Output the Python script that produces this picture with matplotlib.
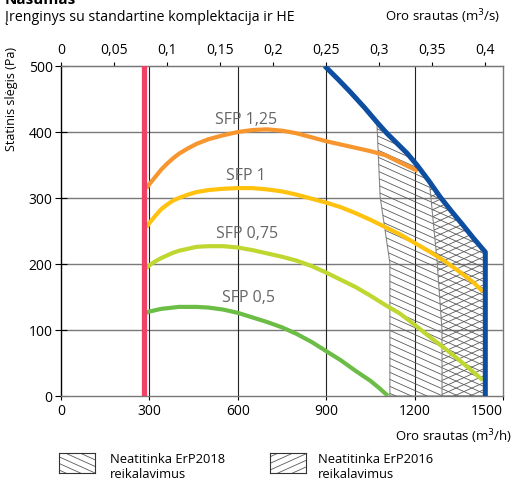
import matplotlib.pyplot as plt
import numpy as np
from matplotlib.patches import Polygon
from matplotlib.ticker import FixedLocator, FuncFormatter

plt.rcParams['font.family'] = ['Open Sans', 'DejaVu Sans']

# data: air flow (m3/h), static pressure (Pa)
min_flow = 282

sfp125_x = [290, 300, 320, 340, 360, 380, 400, 430, 460, 500, 550, 600, 650, 700, 750, 800,
            850, 900, 950, 1000, 1050, 1100, 1150, 1211]
sfp125_y = [315, 321, 332, 343, 352, 360, 367, 375, 382, 389, 395, 400, 403, 404, 402, 398,
            392, 386, 381, 376, 371, 365, 354, 341]

sfp1_x = [290, 300, 320, 340, 360, 380, 400, 430, 460, 500, 550, 600, 650, 700, 750, 800,
          850, 900, 950, 1000, 1050, 1100, 1150, 1200, 1250, 1300, 1350, 1400, 1432]
sfp1_y = [256, 262, 273, 283, 290, 296, 300, 305, 309, 312, 314, 315, 315, 313, 310, 305,
          299, 293, 286, 277, 267, 256, 245, 232, 219, 205, 189, 172, 158]

sfp075_x = [290, 300, 320, 340, 360, 380, 400, 430, 460, 500, 550, 600, 650, 700, 750, 800,
            850, 900, 950, 1000, 1050, 1100, 1150, 1200, 1250, 1300, 1350, 1400, 1432]
sfp075_y = [194, 198, 204, 209, 213, 217, 220, 223, 226, 227, 227, 225, 221, 216, 211, 205,
            197, 187, 176, 165, 152, 138, 125, 108, 90, 73, 55, 36, 24]

sfp05_x = [290, 300, 320, 340, 360, 380, 400, 430, 460, 500, 550, 600, 650, 700, 750, 800,
           850, 900, 950, 1000, 1050, 1080, 1110]
sfp05_y = [126, 128, 130, 132, 133, 134, 135, 135, 135, 134, 131, 126, 119, 112, 104, 94,
           82, 68, 54, 38, 23, 12, 0]

max_x = [895, 940, 981, 1030, 1072, 1106, 1140, 1174, 1208, 1250, 1286, 1325, 1364, 1400, 1440, 1440]
max_y = [500, 480, 461, 437, 415, 398, 383, 368, 350, 325, 302, 280, 259, 239, 218, 0]

# left edges of the non-compliant zones (the rest is bounded by the max curve)
erp2018_edge_x = [1072, 1083, 1116, 1116]
erp2018_edge_y = [415, 302, 202, 0]
erp2016_edge_x = [1250, 1276, 1293, 1293]
erp2016_edge_y = [325, 206, 100, 0]

sfp_labels = ['SFP 1,25', 'SFP 1', 'SFP 0,75', 'SFP 0,5']
label_x = [628, 628, 630, 635]
label_y = [412, 327, 239, 143]

bottom_ticks = [0, 300, 600, 900, 1200, 1500]
top_ticks = [0, 0.05, 0.1, 0.15, 0.2, 0.25, 0.3, 0.35, 0.4]
y_ticks = [0, 100, 200, 300, 400, 500]

W, H = 515, 482
fig = plt.figure(figsize=(W / 100, H / 100), dpi=100)
ax = fig.add_axes([61 / W, 1 - 396 / H, 442 / W, 330 / H])
ax.set_xlim(0, 1500)
ax.set_ylim(0, 500)

# grid
for yv in [100, 200, 300, 400]:
    ax.axhline(yv, color='#7a7a7a', lw=1.0, zorder=1)
for xv in [300, 600, 900, 1200]:
    ax.axvline(xv, color='#222222', lw=0.8, zorder=1)


def zone(edge_x, edge_y):
    # edge points, then back up along the max curve
    pts = list(zip(edge_x, edge_y))
    for bx, by in reversed(list(zip(max_x, max_y))):
        if bx > edge_x[0]:
            pts.append((bx, by))
    return np.array(pts)


def hatch_lines(a, patch, sign, slope, step, x0, x1, c0, c1, color='#5a5a5a', lw=0.6):
    xs = np.array([x0, x1])
    for c in np.arange(c0, c1, step):
        ln, = a.plot(xs, c + sign * slope * (xs - x0), color=color, lw=lw, zorder=2)
        ln.set_clip_path(patch)


# regions not meeting ErP requirements
p18 = Polygon(zone(erp2018_edge_x, erp2018_edge_y), closed=True, fill=False,
              edgecolor='#888888', lw=0.8, zorder=2)
ax.add_patch(p18)
hatch_lines(ax, p18, -1, 0.2, 10.6, 1000, 1500, -100, 700)

p16 = Polygon(zone(erp2016_edge_x, erp2016_edge_y), closed=True, fill=False,
              edgecolor='#888888', lw=0.8, zorder=2)
ax.add_patch(p16)
hatch_lines(ax, p16, 1, 0.2, 10.6, 1000, 1500, -300, 500)

ax.plot(sfp125_x, sfp125_y, color='#f7962f', lw=3, solid_capstyle='butt', zorder=3)
ax.plot(sfp1_x, sfp1_y, color='#ffc20e', lw=3, solid_capstyle='butt', zorder=3)
ax.plot(sfp075_x, sfp075_y, color='#bfd730', lw=3, solid_capstyle='butt', zorder=3)
ax.plot(sfp05_x, sfp05_y, color='#6cbd45', lw=3, solid_capstyle='butt', zorder=3)
ax.plot(max_x, max_y, color='#0d4ea1', lw=3.6, solid_capstyle='butt', zorder=4)
ax.axvline(min_flow, color='#ee4266', lw=3.8, zorder=5)

for t, lx, ly in zip(sfp_labels, label_x, label_y):
    ax.text(lx, ly, t, fontsize=11.5, color='#666666', ha='center', va='baseline', zorder=6)

for side in ['top', 'right', 'bottom']:
    ax.spines[side].set_color('#777777')
ax.spines['left'].set_color('black')
for s in ax.spines.values():
    s.set_linewidth(1.0)

ax.set_xticks(bottom_ticks)
ax.set_yticks(y_ticks)
ax.tick_params(axis='x', direction='out', length=3, width=0.8, labelsize=10, pad=3)
ax.tick_params(axis='y', direction='inout', length=8, width=0.8, labelsize=10, pad=2)
ax.get_xticklabels()[-1].set_horizontalalignment('right')

top = ax.secondary_xaxis('top', functions=(lambda x: x / 3600, lambda x: x * 3600))
top.xaxis.set_major_locator(FixedLocator(top_ticks))
top.xaxis.set_major_formatter(FuncFormatter(lambda v, p: ('%g' % v).replace('.', ',')))
top.tick_params(direction='out', length=3, width=0.8, labelsize=10, pad=3)
top.spines['top'].set_color('#777777')

# texts
fig.text(5 / W, 1 - 4 / H, 'Našumas', fontsize=11, fontweight='bold', ha='left', va='baseline')
fig.text(5 / W, 1 - 21 / H, 'Įrenginys su standartine komplektacija ir HE', fontsize=10.2,
         ha='left', va='baseline')
fig.text(500 / W, 1 - 21 / H, 'Oro srautas (m$^3$/s)', fontsize=9.5, ha='right', va='baseline')
fig.text(512 / W, 1 - 441 / H, 'Oro srautas (m$^3$/h)', fontsize=9.5, ha='right', va='baseline')
fig.text(12 / W, 1 - 47 / H, 'Statinis slėgis (Pa)', fontsize=9, rotation=90,
         ha='center', va='top')

# legend
legend_line1 = ['Neatitinka ErP2018', 'Neatitinka ErP2016']
legend_line2 = ['reikalavimus', 'reikalavimus']
legend_sign = [-1, 1]
legend_box_x = [59, 270]
legend_text_x = [110, 318]
for l1, l2, sg, bx, tx in zip(legend_line1, legend_line2, legend_sign, legend_box_x, legend_text_x):
    lax = fig.add_axes([bx / W, 1 - 473 / H, 36 / W, 20 / H])
    lax.set_xlim(0, 1)
    lax.set_ylim(0, 1)
    lax.set_xticks([])
    lax.set_yticks([])
    for s in lax.spines.values():
        s.set_color('#333333')
        s.set_linewidth(0.8)
    xs = np.array([0.0, 1.0])
    for c in np.arange(-1.5, 2.5, 0.33):
        lax.plot(xs, c + sg * 0.81 * xs, color='#5a5a5a', lw=0.6)
    fig.text(tx / W, 1 - 463 / H, l1, fontsize=9.3, ha='left', va='baseline')
    fig.text(tx / W, 1 - 478 / H, l2, fontsize=9.3, ha='left', va='baseline')

fig.savefig('out.png', dpi=100)
